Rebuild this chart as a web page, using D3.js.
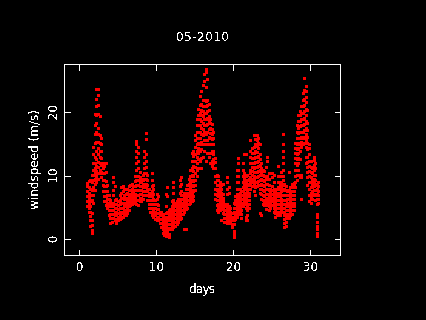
<!DOCTYPE html>
<html>
<head>
<meta charset="utf-8">
<script src="https://cdn.jsdelivr.net/npm/d3@7"></script>
<style>
  html, body { margin: 0; padding: 0; background: #000; }
  svg { display: block; }
  text { font-family: "DejaVu Sans", sans-serif; fill: #fff; }
</style>
</head>
<body>
<div id="chart"></div>
<script>
const chartTitle = '05-2010'
const xLabel = 'days'
const yLabel = 'windspeed (m/s)'
const xTicks = [0, 10, 20, 30]
const yTicks = [0, 10, 20]

// [day, speeds at that day]
const readings = [
  [1.0, [5.3, 6, 6.9, 7.6, 8.4, 8.9]],
  [1.2, [4.4, 5, 5.8, 6.6, 7.4, 8.2, 9.2]],
  [1.4, [2.2, 3, 3.7, 4.4, 5.2, 6, 7, 8, 9.4]],
  [1.6, [1, 1.5, 2.3, 3, 4.2, 6.2, 7.8, 9, 10.2]],
  [1.8, [5.8, 7, 8.2, 9.4, 10.2, 11, 12, 13.4, 14.6]],
  [2.0, [7.8, 8.8, 9.6, 10.4, 11.2, 12, 13, 15.2, 16.6, 18, 19.8]],
  [2.2, [9, 10, 10.8, 11.6, 12.6, 14, 15.4, 17, 18.4, 19.6, 21, 22.2, 23.7]],
  [2.4, [9.6, 10.4, 11.4, 12.2, 13.4, 14.4, 15.4, 16.6, 17.6, 19.8, 21.2, 22.8, 23.7]],
  [2.6, [10.4, 11, 12, 13, 14, 15.2, 16.4, 19.4]],
  [2.8, [9.8, 10.6, 11.8, 12.8, 14, 15, 16]],
  [3.0, [7.6, 8.6, 9.4, 10.4, 11.2, 12]],
  [3.2, [6, 6.8, 7.6, 8.4, 9.4, 10.4, 11.6]],
  [3.4, [5.4, 6, 6.8, 7.6, 8.4, 9.2, 10.6, 12]],
  [3.6, [5, 5.6, 6.4, 7, 7.6, 8.6]],
  [3.8, [3.8, 4.6, 5.2, 5.8, 6.4, 7]],
  [4.0, [2.6, 3.4, 4, 4.6, 5.2, 5.8, 6.2]],
  [4.2, [2.8, 3.4, 4, 4.6, 5.2, 5.8]],
  [4.4, [3.4, 4, 4.6, 5.2, 5.8, 7, 7.8, 9, 9.8]],
  [4.6, [3, 3.8, 4.4, 5, 5.6, 6.2, 8.4]],
  [4.8, [2.6, 3.2, 3.8, 4.4, 5, 5.6, 6.4]],
  [5.0, [3, 3.6, 4.2, 4.8, 5.4, 6]],
  [5.2, [3.2, 3.8, 4.4, 5, 5.6, 6.2, 7]],
  [5.4, [3.4, 4.2, 5, 5.8, 6.6, 7.4, 8.2]],
  [5.6, [3.6, 4.4, 5, 5.8, 6.6, 7.6, 8.4]],
  [5.8, [4, 4.6, 5.2, 5.8, 6.4, 7, 8]],
  [6.0, [3.8, 4.4, 5.2, 5.8, 6.6, 7.2]],
  [6.2, [4.2, 4.8, 5.4, 6, 6.6, 7.4, 8]],
  [6.4, [4.6, 5.2, 5.8, 6.4, 7, 7.8, 8.4]],
  [6.6, [5.4, 6, 6.6, 7.2, 7.8, 8.6]],
  [6.8, [5.6, 6.2, 6.8, 7.4, 8, 8.8]],
  [7.0, [5.8, 6.4, 7, 7.6, 8.4]],
  [7.2, [6, 6.6, 7.2, 7.8, 8.4, 9.2, 10]],
  [7.4, [5.6, 6.2, 7, 7.8, 8.6, 9.4, 10, 11, 12, 13, 14, 15, 15.5]],
  [7.6, [5.4, 6.2, 7, 7.8, 8.6, 9.4, 10, 11.2, 12.4, 13.6, 14.6]],
  [7.8, [6, 6.6, 7.2, 7.8, 8.4, 9, 9.8, 10.6]],
  [8.0, [6, 6.6, 7.2, 7.8, 8.4, 9, 9.6]],
  [8.2, [6.4, 7, 7.6, 8.2, 8.8, 9.4, 10.2]],
  [8.4, [7, 7.6, 8.2, 8.8, 9.6, 10.4, 11.2, 12, 13, 14]],
  [8.6, [7.6, 8.2, 8.8, 9.6, 10.4, 11.4, 12.4, 13.4, 15.8, 16.7]],
  [8.8, [6.2, 7, 7.8, 8.6, 9.4, 10.2]],
  [9.0, [5, 5.6, 6.2, 6.8, 7.4, 8]],
  [9.2, [4.4, 5, 5.6, 6.2, 6.8, 7.4]],
  [9.4, [3.8, 4.4, 5, 5.6, 6.2, 6.8, 7.6, 8.4, 9.4, 10.4]],
  [9.6, [3.6, 4.2, 4.8, 5.6, 6.4, 7.2, 8, 8.6]],
  [9.8, [3.2, 3.8, 4.4, 5, 5.6, 6.2]],
  [10.0, [3, 3.6, 4.2, 4.8, 5.6, 6.4, 7.2]],
  [10.2, [3, 3.6, 4.2, 4.8, 5.4, 6.8]],
  [10.4, [2.6, 3.2, 3.8, 4.4]],
  [10.6, [2, 2.6, 3.2, 3.8, 4.4]],
  [10.8, [1, 1.6, 2.2, 2.8, 3.4, 4]],
  [11.0, [0.7, 1.2, 1.8, 2.4, 3, 3.6]],
  [11.2, [0.6, 1, 1.6, 2.2, 2.8, 3.4, 4.2, 5.2, 7.2]],
  [11.4, [1.2, 1.8, 2.4, 3, 3.6, 4.4, 6.8, 8.2]],
  [11.6, [0.4, 0.9, 1.6, 2.4, 3.2, 4, 4.6]],
  [11.8, [1.8, 2.4, 3, 3.6, 4.2, 4.8]],
  [12.0, [1.6, 2.2, 2.8, 3.4, 4, 4.6, 5.2, 6]],
  [12.2, [2, 2.6, 3.2, 3.8, 4.4, 5, 5.6, 6.2, 7.4, 8.2, 9]],
  [12.4, [2.2, 2.8, 3.4, 4, 4.6, 5.2, 5.8]],
  [12.6, [2.4, 3, 3.6, 4.2, 4.8, 5.4, 6]],
  [12.8, [2.8, 3.4, 4, 4.6, 5.2, 5.8, 6.4]],
  [13.0, [3.2, 3.8, 4.4, 5, 5.6, 6.2, 7.4, 8.4, 9.4]],
  [13.2, [3.4, 4, 4.6, 5.2, 5.8, 6.4, 7, 7.6, 8.8, 9.8]],
  [13.4, [4, 4.6, 5.2, 5.8, 6.4, 7]],
  [13.6, [1.7, 4.4, 5, 5.6, 6.2, 6.8, 7.4]],
  [13.8, [1.7, 4.8, 5.4, 6, 6.6, 7.2, 8]],
  [14.0, [5, 5.6, 6.2, 6.8, 7.4, 8, 8.6]],
  [14.2, [5.6, 6.2, 6.8, 7.4, 8, 8.8, 9.6]],
  [14.4, [5.8, 6.4, 7, 7.6, 8.2, 9, 10, 11]],
  [14.6, [6, 6.6, 7.2, 7.8, 8.6, 9.4, 10.2, 11.2, 12.4, 13.6]],
  [14.8, [6.2, 6.8, 7.6, 8.4, 9.2, 10, 10.8, 11.6, 12.4, 13.2, 14]],
  [15.0, [7.8, 8.6, 9.4, 10.4, 11.4, 12.4, 13.4, 14.6, 15.6, 16.4]],
  [15.2, [10, 11, 12, 13, 14, 15, 16, 17, 18, 19]],
  [15.4, [11.2, 12.6, 13.6, 14.4, 15.2, 16, 17, 18, 19.6, 20.6]],
  [15.6, [11.2, 12.4, 14, 15, 16, 17, 18, 19, 20, 21.2, 22.6]],
  [15.8, [11.2, 12.8, 14.2, 15.4, 16.6, 17.6, 18.6, 19.6, 20.4, 21.4, 23.4]],
  [16.0, [13, 15, 16.4, 17.4, 18.4, 19.4, 20.2, 21, 22, 24.4]],
  [16.2, [14, 15.6, 17, 18, 19, 20, 21, 22, 25, 26]],
  [16.4, [12.4, 15, 16.6, 18, 19, 20, 21, 21.8, 24, 26.4, 26.8]],
  [16.6, [13.6, 15.6, 17, 18.2, 19.2, 20.2, 21.2, 22, 25.2]],
  [16.8, [13, 15, 16.2, 17.4, 18.6, 19.4, 20.4, 21.4]],
  [17.0, [12, 13.6, 15, 16, 16.8, 17.6, 18.4, 19]],
  [17.2, [11.6, 12.4, 14, 15, 15.8, 16.6, 17.4, 18.2]],
  [17.4, [11.2, 12, 12.6, 13.4, 14, 15, 16, 17]],
  [17.6, [6.4, 7.2, 8, 9, 10, 11.2, 12.2, 12.8]],
  [17.8, [4.6, 5.4, 6.2, 7, 7.8, 8.6, 9.4, 10.2]],
  [18.0, [4.4, 5, 5.6, 6.2, 6.8, 7.4, 8, 8.6, 9.4, 10]],
  [18.2, [4.6, 5.2, 5.8, 6.4, 7, 7.6, 8.2, 9]],
  [18.4, [3, 5, 5.6, 6.2, 6.8, 7.4, 8, 8.6]],
  [18.6, [4.2, 4.8, 5.4, 6, 6.6, 7.2, 8.8]],
  [18.8, [2.8, 3.4, 4, 4.6, 5.2, 5.6]],
  [19.0, [2.8, 3.4, 4, 4.6, 5.2]],
  [19.2, [2.6, 3.2, 3.8, 4.4, 5, 5.6, 7.2, 8, 9, 9.9]],
  [19.4, [2.8, 3.4, 4, 4.6, 5.2, 7.4, 8.2]],
  [19.6, [2.6, 3.2, 3.8, 4.4, 5]],
  [19.8, [1.9, 2.4, 3, 3.6, 4.2]],
  [20.0, [0.4, 0.8, 1.4, 2.4, 3, 3.6, 4.4, 5, 5.8]],
  [20.2, [3.2, 3.8, 4.4, 5, 5.6, 6.2, 6.8]],
  [20.4, [3.6, 4.2, 4.8, 5.4, 6, 6.6, 7.2, 8, 9, 10, 11]],
  [20.6, [4, 4.6, 5.2, 5.8, 6.4, 7, 8, 9, 10, 11, 12, 12.8]],
  [20.8, [4.4, 5, 5.6, 6.2, 6.8, 7.4, 8]],
  [21.0, [3.4, 4, 4.6, 5.2, 5.8, 6.4, 7, 7.6]],
  [21.2, [5.2, 5.8, 6.4, 7, 7.6, 8.2, 9, 10, 11, 12]],
  [21.4, [5.6, 6.2, 6.8, 7.4, 8, 8.8, 9.6, 10.4, 13.4]],
  [21.6, [3, 3.6, 5, 5.8, 6.6, 7.4, 8.2, 9, 10, 13.4]],
  [21.8, [3, 3.8, 4.6, 5.4, 6.2, 7, 7.8, 8.6, 9.4, 10.2]],
  [22.0, [5, 5.6, 6.2, 6.8, 7.4, 8, 8.8, 9.6]],
  [22.2, [8, 8.6, 9.2, 9.8, 10.4, 11, 12, 13, 14, 15.6]],
  [22.4, [8.4, 9, 9.6, 10.2, 10.8, 11.4, 12, 12.8, 13.6, 14.4]],
  [22.6, [7.6, 8.6, 9.4, 10, 10.6, 11.2, 12, 12.8, 13.6, 14.6, 16.4]],
  [22.8, [7, 8.2, 9, 9.8, 10.6, 11.4, 12.2, 13, 14, 15, 15.8]],
  [23.0, [8.4, 9, 9.8, 10.6, 11.4, 12.2, 13, 13.8, 14.8, 15.6, 16.4]],
  [23.2, [8.6, 9.2, 10, 10.8, 11.6, 12.4, 13.2, 14.4, 15.2, 16]],
  [23.4, [4.2, 7.4, 8, 8.6, 9.4, 10.2, 11, 11.8, 12.6, 13.4, 15]],
  [23.6, [3.8, 6.4, 7.2, 8, 8.8, 9.6, 10.4, 11.2, 12]],
  [23.8, [5.6, 6.2, 7, 7.8, 8.6, 9.4, 10.2, 11]],
  [24.0, [5.4, 6, 6.8, 7.6, 8.4, 9.2, 10, 10.8]],
  [24.2, [4.8, 5.6, 6.4, 7.2, 8, 8.8, 9.6, 11.4]],
  [24.4, [5.4, 6, 6.6, 7.2, 8, 8.8, 10, 12.4, 13]],
  [24.6, [4.6, 5.2, 5.8, 6.4, 7, 7.8, 8.6, 9.6, 10.4]],
  [24.8, [5, 5.6, 6.2, 6.8, 7.4, 8]],
  [25.0, [5.4, 6, 6.6, 7.2, 7.8, 8.4, 9.8, 10.4]],
  [25.2, [4.4, 5, 5.6, 6.2, 6.8, 7.4, 8, 9, 10.2]],
  [25.4, [3.6, 4.2, 4.8, 5.4, 6, 6.6, 7.2, 7.8]],
  [25.6, [3.8, 4.4, 5, 5.6, 6.2, 6.8, 7.4, 8]],
  [25.8, [5, 5.6, 6.2, 6.8, 7.4, 8.2, 9, 10, 11.6]],
  [26.0, [3.8, 4.4, 5, 5.6, 6.2, 6.8, 7.4, 8, 8.8]],
  [26.2, [4.6, 5.2, 5.8, 6.4, 7, 7.6, 8.2, 9, 10, 10.6]],
  [26.4, [4.4, 5, 5.6, 6.2, 7, 7.8, 8.6, 9.4, 10, 11, 12, 13, 14, 15, 16.6]],
  [26.6, [2, 2.6, 3.2, 3.8, 4.4, 5, 5.6, 6.2, 7, 8, 8.8]],
  [26.8, [2.2, 2.8, 3.6, 4.6, 5.4, 6.2, 7, 7.8, 8.4]],
  [27.0, [3.4, 4, 4.6, 5.2, 5.8, 6.4, 7, 7.6]],
  [27.2, [3.4, 3.9, 4.6, 5.2, 5.8, 6.4, 7, 7.8, 10.6]],
  [27.4, [3.8, 4.4, 5, 5.6, 6.2, 6.8, 7.4, 8.2]],
  [27.6, [4, 4.6, 5.2, 5.8, 6.4, 7, 7.6, 8.2, 8.8]],
  [27.8, [4.6, 5.2, 5.8, 6.4, 7, 7.6, 8.4, 8.9]],
  [28.0, [8.2, 9, 10, 11, 12, 12.8, 13.6, 14.4, 15.2]],
  [28.2, [9.4, 10.2, 11, 11.8, 12.6, 13.4, 14.2, 15, 16, 17, 18]],
  [28.4, [10.2, 11, 12, 12.8, 13.6, 14.4, 15.2, 16, 16.8, 17.6, 18.6, 19.6]],
  [28.6, [9.8, 10.2, 12.6, 14, 15, 16, 17, 17.8, 18.6, 19.6, 20.2]],
  [28.8, [6.3, 9.8, 10.2, 14.6, 15.4, 16.2, 17, 18, 19, 20, 21]],
  [29.0, [15, 16, 17, 18, 19, 20, 21, 22, 23]],
  [29.2, [15.2, 16.2, 17.2, 18.2, 19.2, 20.2, 21.2, 22.2, 23.6, 25.4]],
  [29.4, [12, 13, 14.6, 15.6, 16.6, 17.6, 18.6, 19.6, 20.6, 21.6, 22.4, 23.4, 24.2]],
  [29.6, [8.6, 9.8, 10.6, 11.4, 12.2, 13, 14.2, 15.2, 16.2, 17.2, 18.4, 20.4]],
  [29.8, [6, 7, 8, 9, 10, 10.8, 11.6, 12.4, 13.4, 14.4, 15]],
  [30.0, [5.8, 6.6, 7.4, 8.2, 9, 9.8, 10.6, 11.4, 12.4]],
  [30.2, [6.4, 7, 7.6, 8.2, 8.8, 9.6, 10.4, 11.2]],
  [30.4, [7.2, 7.8, 8.4, 9, 9.6, 10.2, 11, 11.8, 12.5, 13]],
  [30.6, [6.2, 7, 7.8, 8.6, 9.4, 10.2, 11.2, 12]],
  [30.8, [0.5, 1, 1.6, 2.2, 2.8, 3.6, 4, 5.6, 6.4, 7.2, 8, 8.8]],
  [31.0, [5.8, 6.4, 7, 7.6, 8.4, 9]]
]

const width = 426, height = 320
const box = { left: 64.5, right: 340.5, top: 64.5, bottom: 255.5 }
const tickLen = 6

const svg = d3.select('#chart').append('svg')
  .attr('width', width)
  .attr('height', height)
  .attr('viewBox', '0 0 ' + width + ' ' + height)

svg.append('rect').attr('width', width).attr('height', height).attr('fill', '#000')

// hard alpha threshold, the reference text has no antialiasing
const hard = svg.append('defs').append('filter').attr('id', 'hard')
  .attr('filterUnits', 'userSpaceOnUse')
  .attr('x', 0).attr('y', 0).attr('width', width).attr('height', height)
hard.append('feComponentTransfer').append('feFuncA')
  .attr('type', 'discrete').attr('tableValues', '0 0 1 1')

// 0 at 79.5, 30 at 310.5 ; 0 at 239.5, 20 at 112.5
const x = d3.scaleLinear().domain([0, 30]).range([79.5, 310.5])
const y = d3.scaleLinear().domain([0, 20]).range([239.5, 112.5])

const points = readings.flatMap(r => r[1].map(v => ({ day: r[0], speed: v })))

svg.append('g').selectAll('rect')
  .data(points)
  .enter()
  .append('rect')
  .attr('x', d => Math.round(x(d.day)) - 1)
  .attr('y', d => Math.round(y(d.speed)) - 1)
  .attr('width', 3)
  .attr('height', 3)
  .attr('fill', '#ff0000')
  .attr('shape-rendering', 'crispEdges')

svg.append('rect')
  .attr('x', box.left)
  .attr('y', box.top)
  .attr('width', box.right - box.left)
  .attr('height', box.bottom - box.top)
  .attr('fill', 'none')
  .attr('stroke', '#fff')
  .attr('shape-rendering', 'crispEdges')

const axes = svg.append('g').attr('shape-rendering', 'crispEdges').attr('stroke', '#fff')
xTicks.forEach(t => {
  axes.append('line').attr('x1', x(t)).attr('x2', x(t)).attr('y1', box.top).attr('y2', box.top + tickLen)
  axes.append('line').attr('x1', x(t)).attr('x2', x(t)).attr('y1', box.bottom).attr('y2', box.bottom - tickLen)
})
yTicks.forEach(t => {
  axes.append('line').attr('x1', box.left).attr('x2', box.left + tickLen).attr('y1', y(t)).attr('y2', y(t))
  axes.append('line').attr('x1', box.right).attr('x2', box.right - tickLen).attr('y1', y(t)).attr('y2', y(t))
})

const labels = svg.append('g').attr('filter', 'url(#hard)').attr('font-size', 12)

const addText = (str, tx, ty, rot, len) => {
  const t = labels.append('text')
    .attr('transform', 'translate(' + tx + ',' + ty + ')' + (rot ? ' rotate(' + rot + ')' : ''))
    .attr('text-anchor', 'middle')
    .text(str)
  if (len) t.attr('textLength', len).attr('lengthAdjust', 'spacing')
}

addText(chartTitle, 202.5, 41, 0, 53)
addText(xLabel, 202, 293, 0, 26)
addText(yLabel, 38, 160, -90, 100)
xTicks.forEach(t => addText(t, x(t), 271))
yTicks.forEach(t => addText(t, 57, y(t), -90))
</script>
</body>
</html>
